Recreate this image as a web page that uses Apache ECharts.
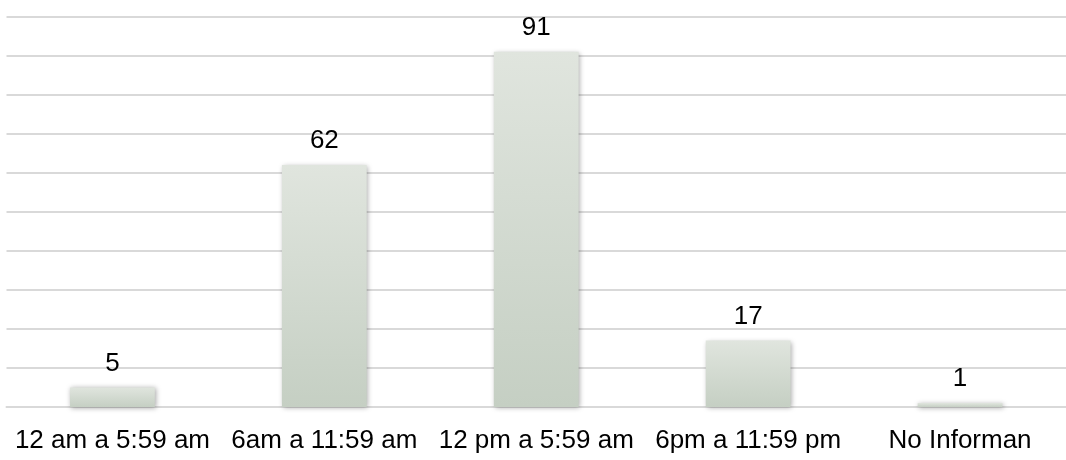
<!DOCTYPE html>
<html>
<head>
<meta charset="utf-8">
<script src="https://cdn.jsdelivr.net/npm/echarts@6/dist/echarts.min.js"></script>
<style>
  html, body { margin: 0; padding: 0; background: #fff; }
  #chart { width: 1066px; height: 460px; }
</style>
</head>
<body>
<div id="chart"></div>
<script>
const categories = ['12 am a 5:59 am', '6am a 11:59 am', '12 pm a 5:59 am', '6pm a 11:59 pm', 'No Informan'];
const values = [5, 62, 91, 17, 1];

const chart = echarts.init(document.getElementById('chart'));

chart.setOption({
  animation: false,
  grid: { left: 6.5, width: 1062.5, top: 16.5, bottom: 53, containLabel: false },
  xAxis: {
    type: 'category',
    data: categories,
    axisLine: { lineStyle: { color: '#d9d9d9', width: 2 } },
    axisTick: { show: false },
    axisLabel: {
      margin: 21,
      fontFamily: 'Liberation Sans, Arial, sans-serif',
      fontSize: 26,
      color: '#000',
      interval: 0
    }
  },
  yAxis: {
    type: 'value',
    min: 0,
    max: 100,
    interval: 10,
    axisLabel: { show: false },
    axisLine: { show: false },
    axisTick: { show: false },
    splitLine: { lineStyle: { color: '#d9d9d9', width: 2 } }
  },
  series: [{
    type: 'bar',
    data: values,
    barWidth: '40%',
    itemStyle: {
      color: new echarts.graphic.LinearGradient(0, 0, 0, 1, [
        { offset: 0, color: '#e0e5de' },
        { offset: 1, color: '#c5cfc3' }
      ]),
      shadowColor: 'rgba(0,0,0,0.35)',
      shadowBlur: 5,
      shadowOffsetX: 1,
      shadowOffsetY: 1
    },
    label: {
      show: true,
      position: 'top',
      distance: 11,
      fontFamily: 'Liberation Sans, Arial, sans-serif',
      fontSize: 26,
      color: '#000'
    }
  }]
});
</script>
</body>
</html>
